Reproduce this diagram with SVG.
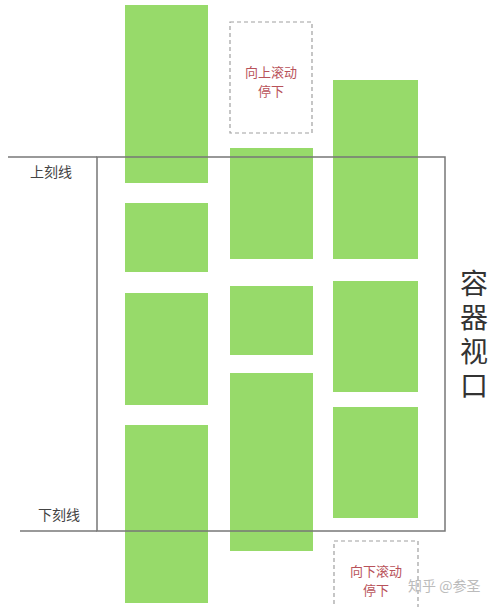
<svg xmlns="http://www.w3.org/2000/svg" width="500" height="607" viewBox="0 0 500 607">
<style>
.blk{fill:#97da6a}
.dash{fill:none;stroke:#a0a0a0;stroke-width:1.2;stroke-dasharray:4 3}
.lbl{font-family:"Noto Sans CJK SC",sans-serif;font-size:14px;fill:#444}
.red{font-family:"Noto Sans CJK SC",sans-serif;font-size:13px;fill:#b8525a;text-anchor:middle}
.big{font-family:"Noto Sans CJK SC",sans-serif;font-size:28px;fill:#333}
.ln{stroke:#777;stroke-width:1.5;fill:none}
</style>
<rect width="500" height="607" fill="#fff"/>
<g id="col1">
<rect class="blk" x="125" y="5" width="83" height="178"/>
<rect class="blk" x="125" y="203" width="83" height="69"/>
<rect class="blk" x="125" y="293" width="83" height="112"/>
<rect class="blk" x="125" y="425" width="83" height="178"/>
</g>
<g id="col2">
<rect class="dash" x="230" y="22" width="82" height="111"/>
<text class="red" x="271" y="77">向上滚动</text>
<text class="red" x="271" y="96">停下</text>
<rect class="blk" x="230" y="148" width="83" height="111"/>
<rect class="blk" x="230" y="286" width="83" height="69"/>
<rect class="blk" x="230" y="373" width="83" height="178"/>
</g>
<g id="col3">
<rect class="blk" x="333" y="80" width="85" height="179"/>
<rect class="blk" x="333" y="281" width="85" height="111"/>
<rect class="blk" x="333" y="407" width="85" height="111"/>
<rect class="dash" x="334" y="541" width="84" height="70"/>
<text class="red" x="376" y="576">向下滚动</text>
<text class="red" x="376" y="595">停下</text>
</g>
<g id="connectors">
<line class="ln" x1="8" y1="157" x2="97" y2="157"/>
<line class="ln" x1="20" y1="531" x2="97" y2="531"/>
<rect class="ln" x="97" y="157" width="348" height="374"/>
</g>
<g id="labels">
<text class="lbl" x="30" y="177">上刻线</text>
<text class="lbl" x="38" y="520">下刻线</text>
<text class="big" x="474" y="269" writing-mode="vertical-rl" letter-spacing="6">容器视口</text>
<text x="408" y="591" style="font-family:'Noto Sans CJK SC',sans-serif;font-size:14px;fill:#bbb">知乎 @参圣</text>
</g>
</svg>
